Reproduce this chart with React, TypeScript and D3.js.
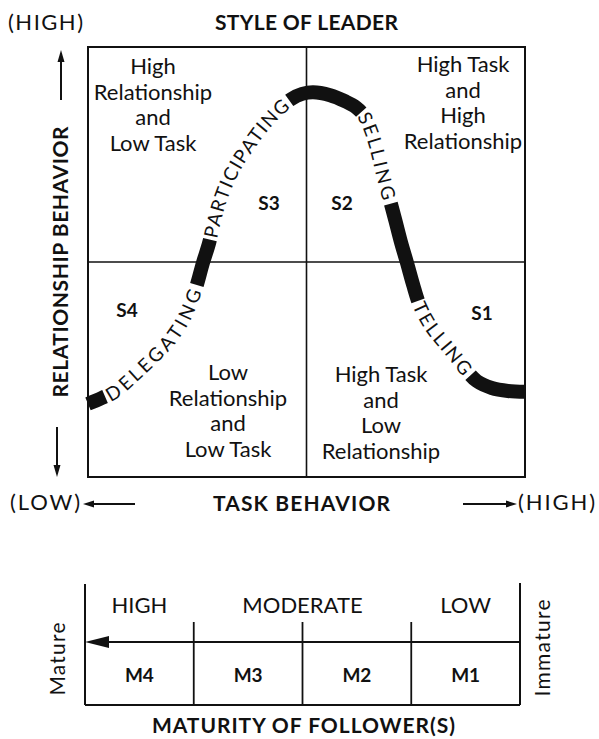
import React, { useEffect, useRef } from "react";
import * as d3 from "d3";

// leader-style curve: task behaviour (0 low .. 10 high), relationship behaviour (0 .. 10)
const curveTask = [0, 0.32, 0.64, 0.96, 1.3, 1.65, 1.97, 2.24, 2.47, 2.63, 2.77, 2.88, 3.02, 3.2, 3.43, 3.71, 4.0, 4.32, 4.65, 4.9, 5.15,
  5.54, 5.88, 6.13, 6.32, 6.45, 6.57, 6.66, 6.77, 6.89, 7.03, 7.16, 7.3, 7.44, 7.57, 7.76, 7.96, 8.19, 8.42, 8.65, 8.9, 9.24, 9.61, 10];
const curveRelation = [1.7, 1.84, 2.0, 2.28, 2.6, 2.95, 3.33, 3.79, 4.4, 4.98, 5.44, 5.93, 6.44, 6.91, 7.35, 7.77, 8.16, 8.51, 8.79, 8.91, 8.95,
  8.88, 8.74, 8.6, 8.4, 8.12, 7.77, 7.42, 6.95, 6.51, 5.98, 5.47, 4.98, 4.47, 4.05, 3.65, 3.35, 3.07, 2.79, 2.49, 2.23, 2.07, 2.0, 1.98];

// style names written along the curve, with the task values where each word starts / ends
const styleNames = ["DELEGATING", "PARTICIPATING", "SELLING", "TELLING"];
const styleFrom = [0.39, 2.79, 6.25, 7.55];
const styleTo = [2.49, 4.6, 6.93, 8.75];

// quadrants, in order S1..S4
const quadrantCodes = ["S1", "S2", "S3", "S4"];
const quadrantText = [
  ["High Task", "and", "Low", "Relationship"],
  ["High Task", "and", "High", "Relationship"],
  ["High", "Relationship", "and", "Low Task"],
  ["Low", "Relationship", "and", "Low Task"],
];

const maturityCodes = ["M4", "M3", "M2", "M1"];
const maturityLevels = ["HIGH", "MODERATE", "LOW"];
const maturitySpans = [[0, 1], [1, 3], [3, 4]];

const App = () => {
  const svgRef = useRef<SVGSVGElement>(null);

  useEffect(() => {
    const svg = d3.select(svgRef.current);
    svg.selectAll("*").remove();
    const font = "Lato, 'Open Sans', sans-serif";
    const ink = "#111";

    const x = d3.scaleLinear().domain([0, 10]).range([88, 525]);
    const y = d3.scaleLinear().domain([0, 10]).range([477, 47]);

    const g = svg.append("g");

    const label = (txt: string, px: number, py: number, size: number, weight = 400, width?: number, rotate?: number, anchor = "middle") => {
      const t = g.append("text")
        .attr("font-family", font)
        .attr("font-size", size)
        .attr("font-weight", weight)
        .attr("text-anchor", anchor)
        .attr("fill", ink)
        .text(txt);
      if (rotate !== undefined) t.attr("transform", `translate(${px},${py}) rotate(${rotate})`);
      else t.attr("x", px).attr("y", py);
      if (width) t.attr("textLength", width).attr("lengthAdjust", "spacing");
      return t;
    };

    const arrow = (x1: number, y1: number, x2: number, y2: number, len: number, w: number) => {
      const a = Math.atan2(y2 - y1, x2 - x1);
      const bx = x2 - len * Math.cos(a), by = y2 - len * Math.sin(a);
      g.append("line").attr("x1", x1).attr("y1", y1).attr("x2", bx).attr("y2", by)
        .attr("stroke", ink).attr("stroke-width", 2);
      const sx = (w / 2) * Math.sin(a), sy = (w / 2) * Math.cos(a);
      g.append("path")
        .attr("d", `M${x2},${y2}L${bx + sx},${by - sy}L${bx - sx},${by + sy}Z`)
        .attr("fill", ink);
    };

    // box and quadrant lines
    g.append("rect")
      .attr("x", x(0)).attr("y", y(10))
      .attr("width", x(10) - x(0)).attr("height", y(0) - y(10))
      .attr("fill", "none").attr("stroke", ink).attr("stroke-width", 2);
    g.append("line").attr("x1", x(5)).attr("x2", x(5)).attr("y1", y(10)).attr("y2", y(0))
      .attr("stroke", ink).attr("stroke-width", 1.6);
    g.append("line").attr("x1", x(0)).attr("x2", x(10)).attr("y1", y(5)).attr("y2", y(5))
      .attr("stroke", ink).attr("stroke-width", 1.6);

    // titles and axis labels
    label("STYLE OF LEADER", 306.5, 30, 21, 700, 183);
    label("(HIGH)", 8, 30, 22, 400, 75, undefined, "start");
    label("RELATIONSHIP BEHAVIOR", 68, 262, 21, 700, 271, -90);
    arrow(61, 100, 61, 50, 12, 7);
    arrow(57, 427, 57, 477, 12, 7);
    label("(LOW)", 10, 510, 22, 400, 70, undefined, "start");
    arrow(135, 504, 83, 504, 11, 7);
    label("TASK BEHAVIOR", 301.5, 511, 21, 700, 177);
    arrow(463, 504, 517, 504, 11, 7);
    label("(HIGH)", 518, 510, 22, 400, 77, undefined, "start");

    // quadrant texts
    const qPos = [[381, 382], [463, 72], [153, 74], [228, 380]];
    quadrantText.forEach((lines, i) => {
      lines.forEach((ln, j) => label(ln, qPos[i][0], qPos[i][1] + j * 25.5, 22));
    });
    const sPos = [[482, 320], [342, 210], [269, 210], [127, 317]];
    quadrantCodes.forEach((c, i) => label(c, sPos[i][0], sPos[i][1], 19, 700));

    // the curve
    const line = d3.line<number>()
      .x((d, i) => x(curveTask[i]))
      .y((d, i) => y(curveRelation[i]))
      .curve(d3.curveCatmullRom.alpha(0.5));
    const curve = g.append("path")
      .attr("id", "leader-curve")
      .attr("d", line(curveTask))
      .attr("fill", "none")
      .attr("stroke", ink)
      .attr("stroke-width", 14);
    const node = curve.node() as SVGPathElement;
    const total = node.getTotalLength();
    const lenAt = (t: number) => {
      const px = x(t);
      let lo = 0, hi = total;
      for (let k = 0; k < 40; k++) {
        const mid = (lo + hi) / 2;
        if (node.getPointAtLength(mid).x < px) lo = mid; else hi = mid;
      }
      return (lo + hi) / 2;
    };
    const from = styleFrom.map(lenAt);
    const to = styleTo.map(lenAt);
    const dash: number[] = [];
    let prev = 0;
    styleNames.forEach((_, i) => {
      dash.push(from[i] - prev, to[i] - from[i]);
      prev = to[i];
    });
    dash.push(total - prev, total);
    curve.attr("stroke-dasharray", dash.join(","));

    styleNames.forEach((name, i) => {
      const t = g.append("text")
        .attr("font-family", font)
        .attr("font-size", 19)
        .attr("fill", ink)
        .attr("dy", "0.36em");
      const tp = t.append("textPath")
        .attr("href", "#leader-curve")
        .attr("startOffset", (from[i] + to[i]) / 2)
        .attr("text-anchor", "middle")
        .text(name);
      const natural = (t.node() as SVGTextElement).getComputedTextLength();
      const target = to[i] - from[i] - 4;
      const ls = (target - natural) / name.length;
      tp.attr("letter-spacing", ls);
    });

    // maturity of follower scale
    const xm = d3.scaleLinear().domain([0, 4]).range([85, 520]);
    const top = 584, mid = 642, divTop = 622, bottom = 705;
    g.append("line").attr("x1", xm(0)).attr("x2", xm(0)).attr("y1", top).attr("y2", bottom)
      .attr("stroke", ink).attr("stroke-width", 2);
    g.append("line").attr("x1", xm(4)).attr("x2", xm(4)).attr("y1", top - 1).attr("y2", bottom)
      .attr("stroke", ink).attr("stroke-width", 2);
    g.append("line").attr("x1", xm(0)).attr("x2", xm(4)).attr("y1", bottom).attr("y2", bottom)
      .attr("stroke", ink).attr("stroke-width", 2);
    [1, 2, 3].forEach(k => {
      g.append("line").attr("x1", xm(k)).attr("x2", xm(k)).attr("y1", divTop).attr("y2", bottom)
        .attr("stroke", ink).attr("stroke-width", 1.8);
    });
    arrow(xm(4), mid, xm(0), mid, 24, 12);

    maturityLevels.forEach((lv, i) => {
      const [a, b] = maturitySpans[i];
      label(lv, (xm(a) + xm(b)) / 2, 613, 22);
    });
    maturityCodes.forEach((c, i) => label(c, (xm(i) + xm(i + 1)) / 2, 682, 19, 700));
    label("Mature", 65, 659, 21, 400, 73, -90);
    label("Immature", 550, 648, 21, 400, 97, -90);
    label("MATURITY OF FOLLOWER(S)", 303.5, 733, 21, 700, 303);
  }, []);

  return (
    <svg
      ref={svgRef}
      width={599}
      height={739}
      style={{ position: "absolute", left: 0, top: 0, background: "#fff" }}
    />
  );
};

export default App;
